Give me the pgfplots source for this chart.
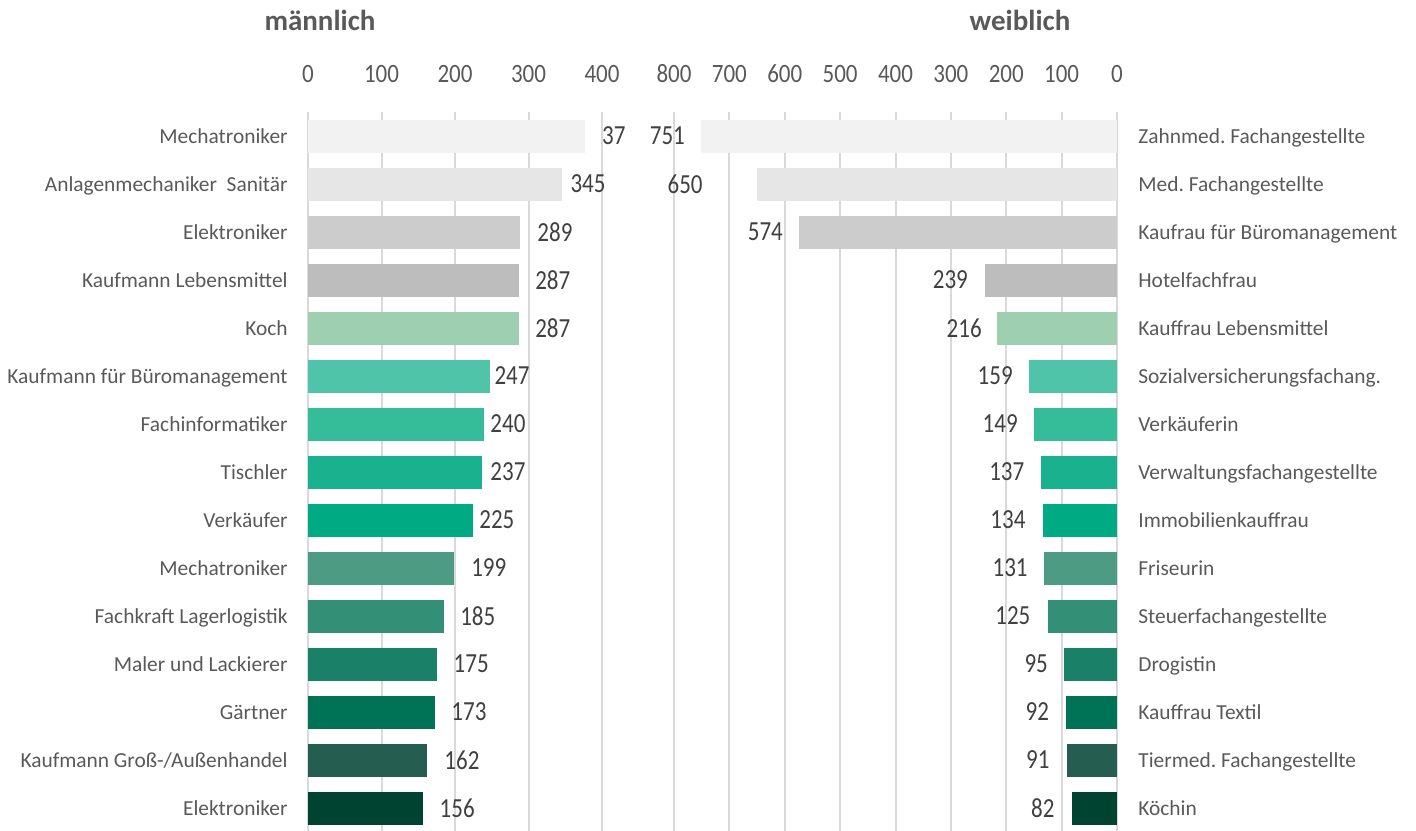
\documentclass[border=0pt]{standalone}
\usepackage{fontspec}
\setmainfont{Carlito}
\usepackage{graphicx}
\usepackage{pgfplots}
\pgfplotsset{compat=1.18}
\frenchspacing
\definecolor{gridc}{HTML}{D9D9D9}
\definecolor{tickc}{HTML}{595959}
\definecolor{catc}{HTML}{595959}
\definecolor{valc}{HTML}{404040}
\definecolor{c1}{HTML}{F2F2F2}
\definecolor{c2}{HTML}{E6E6E6}
\definecolor{c3}{HTML}{CCCCCC}
\definecolor{c4}{HTML}{BDBDBD}
\definecolor{c5}{HTML}{9DCFB0}
\definecolor{c6}{HTML}{4FC4A8}
\definecolor{c7}{HTML}{35BC98}
\definecolor{c8}{HTML}{1AB28E}
\definecolor{c9}{HTML}{00AA82}
\definecolor{c10}{HTML}{4E9B84}
\definecolor{c11}{HTML}{338F75}
\definecolor{c12}{HTML}{1A8068}
\definecolor{c13}{HTML}{007356}
\definecolor{c14}{HTML}{255E50}
\definecolor{c15}{HTML}{004330}
\newcommand{\hb}[3]{\addplot[xbar, bar width=16.5pt, bar shift=0pt, draw=none, fill=#3] coordinates {(#1,#2)};}
\pgfplotsset{
  common/.style={
    scale only axis, height=360pt, ymin=-0.5, ymax=14.5, y dir=reverse,
    ytick={0,...,14}, axis line style={draw=none}, major tick length=0pt,
    tick style={draw=none}, xmajorgrids, grid style={draw=gridc, line width=1pt},
    xticklabel pos=upper,
    xticklabel={\scalebox{1}[1.15]{\pgfmathprintnumber{\tick}}},
    xticklabel style={font=\fontsize{11.5}{12}\selectfont, text=tickc, anchor=base, yshift=15pt, inner sep=0pt},
    /pgf/number format/assume math mode=true,
    yticklabel style={font=\fontsize{10.7}{12}\selectfont, text=catc, inner sep=0pt, yshift=-3.9pt},
    clip=false,
  },
  vals/.style={only marks, mark=*, mark size=0pt, mark options={draw=none, fill=none},
    nodes near coords={\scalebox{1}[1.2]{\pgfplotspointmeta}},
    point meta=explicit symbolic,
    nodes near coords style={anchor=center, font=\fontsize{11.5}{12}\selectfont, text=valc, inner sep=0pt}},
}
\begin{document}
\begin{tikzpicture}
\useasboundingbox (0pt,0pt) rectangle (708pt,415pt);
\node[font=\fontsize{14.5}{16}\selectfont\bfseries, text=tickc, anchor=base] at (160pt,399.5pt) {männlich};
\node[font=\fontsize{14.5}{16}\selectfont\bfseries, text=tickc, anchor=base] at (510pt,399.5pt) {weiblich};
\begin{axis}[common, at={(154pt,-1pt)}, anchor=south west, width=147pt,
  xmin=0, xmax=400, xtick={0,100,...,400},
  yticklabel style={anchor=base east, xshift=-10pt},
  yticklabels={Mechatroniker, Anlagenmechaniker~ Sanitär, Elektroniker, Kaufmann Lebensmittel, Koch, Kaufmann für Büromanagement, Fachinformatiker, Tischler, Verkäufer, Mechatroniker, Fachkraft Lagerlogistik, Maler und Lackierer, Gärtner, Kaufmann Groß-/Außenhandel, Elektroniker}]
\hb{377}{0}{c1}
\hb{345}{1}{c2}
\hb{289}{2}{c3}
\hb{287}{3}{c4}
\hb{287}{4}{c5}
\hb{247}{5}{c6}
\hb{240}{6}{c7}
\hb{237}{7}{c8}
\hb{225}{8}{c9}
\hb{199}{9}{c10}
\hb{185}{10}{c11}
\hb{175}{11}{c12}
\hb{173}{12}{c13}
\hb{162}{13}{c14}
\hb{156}{14}{c15}
\addplot[vals] table[meta=lab] {
x y lab
416 0 37
381 1 345
336 2 289
333 3 287
333 4 287
277.6 5 247
272 6 240
272 7 237
257 8 225
246 9 199
231 10 185
222 11 175
219 12 173
209.5 13 162
203 14 156
};
\end{axis}
\begin{axis}[common, at={(337pt,-1pt)}, anchor=south west, width=221.5pt,
  xmin=0, xmax=800, x dir=reverse, xtick={0,100,...,800},
  yticklabel pos=right,
  yticklabel style={anchor=base west, xshift=10.5pt},
  yticklabels={Zahnmed. Fachangestellte, Med. Fachangestellte, Kaufrau für Büromanagement, Hotelfachfrau, Kauffrau Lebensmittel, Sozialversicherungsfachang., Verkäuferin, Verwaltungsfachangestellte, Immobilienkauffrau, Friseurin, Steuerfachangestellte, Drogistin, Kauffrau Textil, Tiermed. Fachangestellte, Köchin}]
\hb{751}{0}{c1}
\hb{650}{1}{c2}
\hb{574}{2}{c3}
\hb{239}{3}{c4}
\hb{216}{4}{c5}
\hb{159}{5}{c6}
\hb{149}{6}{c7}
\hb{137}{7}{c8}
\hb{134}{8}{c9}
\hb{131}{9}{c10}
\hb{125}{10}{c11}
\hb{95}{11}{c12}
\hb{92}{12}{c13}
\hb{91}{13}{c14}
\hb{82}{14}{c15}
\addplot[vals] table[meta=lab] {
x y lab
812 0 751
780 1 650
635 2 574
301 3 239
276 4 216
220 5 159
211 6 149
199 7 137
197 8 134
193 9 131
188 10 125
146 11 95
144 12 92
143 13 91
134 14 82
};
\end{axis}
\end{tikzpicture}
\end{document}
